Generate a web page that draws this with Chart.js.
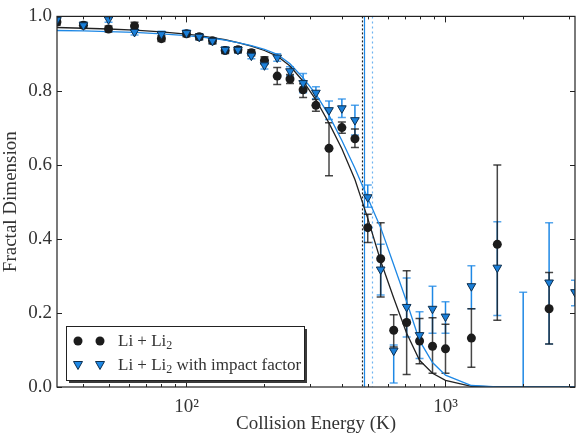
<!DOCTYPE html>
<html>
<head>
<meta charset="utf-8">
<script src="https://cdn.jsdelivr.net/npm/chart.js@4.4.1/dist/chart.umd.min.js"></script>
<style>
  html, body { margin: 0; padding: 0; background: #fff; overflow: hidden; }
  #chart { display: block; }
</style>
</head>
<body>
<canvas id="chart" width="581" height="439"></canvas>
<script>
// Collision energies (K)
const energies = [31.6, 40, 50, 63, 80, 100, 112, 126, 141, 158, 178, 200, 224, 251, 282, 316, 355, 398, 447, 501,
                  562, 631, 708, 794, 891, 1000, 1259, 1585, 1995, 2512, 3162];

// Li + Li2
const liValues = [0.985, 0.976, 0.966, 0.974, 0.940, 0.953, 0.945, 0.934, 0.908, 0.910, 0.902, 0.881, 0.839, 0.831, 0.802, 0.760, 0.644, 0.700, 0.670, 0.430,
                  0.346, 0.153, 0.174, 0.124, 0.110, 0.103, 0.132, 0.385, null, 0.211, null];
const liErrUp = [0.008, 0.008, 0.008, 0.010, 0.008, 0.008, 0.008, 0.008, 0.008, 0.008, 0.008, 0.010, 0.023, 0.012, 0.016, 0.016, 0.069, 0.015, 0.026, 0.036,
                 0.097, 0.042, 0.140, 0.061, 0.077, 0.066, 0.079, 0.214, null, 0.098, null];
const liErrDown = [0.008, 0.008, 0.008, 0.010, 0.008, 0.008, 0.008, 0.008, 0.008, 0.008, 0.008, 0.010, 0.023, 0.012, 0.021, 0.016, 0.074, 0.015, 0.024, 0.040,
                   0.103, 0.045, 0.140, 0.061, 0.073, 0.066, 0.079, 0.205, null, 0.095, null];

// Li + Li2 with impact factor
const impactValues = [0.990, 0.976, 0.992, 0.958, 0.952, 0.955, 0.945, 0.934, 0.910, 0.910, 0.894, 0.868, 0.889, 0.852, 0.820, 0.794, 0.747, 0.752, 0.720, 0.512,
                      0.317, 0.098, 0.216, 0.140, 0.211, 0.190, 0.272, 0.322, -0.100, 0.282, 0.256];
const impactErrUp = [0.008, 0.008, 0.008, 0.008, 0.008, 0.008, 0.008, 0.008, 0.008, 0.008, 0.008, 0.010, 0.010, 0.012, 0.026, 0.016, 0.025, 0.025, 0.040, 0.033,
                     0.068, 0.015, 0.078, 0.063, 0.061, 0.040, 0.055, 0.124, 0.356, 0.161, 0.032];
const impactErrDown = [0.008, 0.008, 0.008, 0.008, 0.008, 0.008, 0.008, 0.008, 0.008, 0.008, 0.008, 0.010, 0.010, 0.012, 0.026, 0.016, 0.025, 0.025, 0.040, 0.027,
                       0.069, 0.087, 0.081, 0.063, 0.066, 0.045, 0.061, 0.129, 0.100, 0.166, 0.037];

// fitted curves, read at the same energies
const liFit = [0.970, 0.968, 0.966, 0.963, 0.958, 0.952, 0.948, 0.943, 0.937, 0.929, 0.920, 0.908, 0.893, 0.866, 0.825, 0.775, 0.712, 0.643, 0.560, 0.455,
               0.340, 0.240, 0.145, 0.072, 0.037, 0.018, 0.002, 0, 0, 0, 0];
const impactFit = [0.962, 0.961, 0.959, 0.957, 0.953, 0.948, 0.945, 0.941, 0.936, 0.929, 0.921, 0.911, 0.898, 0.872, 0.834, 0.790, 0.733, 0.665, 0.590, 0.510,
                   0.430, 0.330, 0.230, 0.125, 0.066, 0.032, 0.004, 0, 0, 0, 0];

// vertical markers (K)
const liMidLine = 477;
const impactMidLines = [484, 518];

const yTicks = [0, 0.2, 0.4, 0.6, 0.8, 1.0];
const xMajorTicks = [100, 1000];
const xMinorTicks = [40, 50, 60, 70, 80, 90, 200, 300, 400, 500, 600, 700, 800, 900, 2000, 3000];

const BLUE = '#1e88e5';
const DARK = '#1c1c1c';
const FONT = "'Liberation Serif', 'DejaVu Serif', serif";

function pts(vals) {
    return energies.map((e, i) => (vals[i] === null ? null : { x: e, y: vals[i] })).filter(p => p !== null);
}

function drawErrorBars(chart, values, up, down, color, capColor) {
    const ctx = chart.ctx, xs = chart.scales.x, ys = chart.scales.y;
    values.forEach((v, i) => {
        if (v === null) return;
        const px = xs.getPixelForValue(energies[i]);
        const top = ys.getPixelForValue(v + up[i]);
        const bot = ys.getPixelForValue(v - down[i]);
        ctx.strokeStyle = color;
        ctx.lineWidth = 1.5;
        ctx.beginPath();
        ctx.moveTo(px, top);
        ctx.lineTo(px, bot);
        ctx.stroke();
        ctx.strokeStyle = capColor;
        ctx.beginPath();
        ctx.moveTo(px - 4, top); ctx.lineTo(px + 4, top);
        ctx.moveTo(px - 4, bot); ctx.lineTo(px + 4, bot);
        ctx.stroke();
    });
}

const underlayPlugin = {
    id: 'underlay',
    beforeDatasetsDraw(chart) {
        const ctx = chart.ctx, a = chart.chartArea, xs = chart.scales.x;
        ctx.save();
        ctx.beginPath();
        ctx.rect(a.left, a.top, a.right - a.left, a.bottom - a.top);
        ctx.clip();

        // vertical lines
        ctx.lineWidth = 1.2;
        let px = Math.round(xs.getPixelForValue(liMidLine)) + 0.5;
        ctx.strokeStyle = '#222';
        ctx.setLineDash([2, 2]);
        ctx.beginPath(); ctx.moveTo(px, a.top); ctx.lineTo(px, a.bottom); ctx.stroke();
        px = Math.round(xs.getPixelForValue(impactMidLines[0])) + 0.5;
        ctx.strokeStyle = BLUE;
        ctx.setLineDash([]);
        ctx.beginPath(); ctx.moveTo(px, a.top); ctx.lineTo(px, a.bottom); ctx.stroke();
        px = Math.round(xs.getPixelForValue(impactMidLines[1])) + 0.5;
        ctx.strokeStyle = '#6fb3f0';
        ctx.setLineDash([2, 3]);
        ctx.beginPath(); ctx.moveTo(px, a.top); ctx.lineTo(px, a.bottom); ctx.stroke();
        ctx.setLineDash([]);

        drawErrorBars(chart, impactValues, impactErrUp, impactErrDown, BLUE, 'rgba(30,136,229,0.75)');
        drawErrorBars(chart, liValues, liErrUp, liErrDown, 'rgba(25,25,25,0.8)', 'rgba(25,25,25,0.8)');
        ctx.restore();
    }
};

const frameLegendPlugin = {
    id: 'frameLegend',
    afterDraw(chart) {
        const ctx = chart.ctx, a = chart.chartArea, xs = chart.scales.x, ys = chart.scales.y;
        ctx.save();
        // frame
        ctx.strokeStyle = '#222';
        ctx.lineWidth = 1.2;
        ctx.strokeRect(a.left, a.top, a.right - a.left, a.bottom - a.top);

        // inward ticks
        ctx.lineWidth = 1;
        ctx.beginPath();
        xMajorTicks.forEach(v => {
            const p = Math.round(xs.getPixelForValue(v)) + 0.5;
            ctx.moveTo(p, a.bottom); ctx.lineTo(p, a.bottom - 6);
            ctx.moveTo(p, a.top); ctx.lineTo(p, a.top + 6);
        });
        xMinorTicks.forEach(v => {
            const p = Math.round(xs.getPixelForValue(v)) + 0.5;
            ctx.moveTo(p, a.bottom); ctx.lineTo(p, a.bottom - 3);
            ctx.moveTo(p, a.top); ctx.lineTo(p, a.top + 3);
        });
        yTicks.forEach(v => {
            const p = Math.round(ys.getPixelForValue(v)) + 0.5;
            ctx.moveTo(a.left, p); ctx.lineTo(a.left + 5, p);
            ctx.moveTo(a.right, p); ctx.lineTo(a.right - 5, p);
        });
        ctx.stroke();

        // legend box
        const bx = 66, by = 326, bw = 238, bh = 54;
        ctx.fillStyle = '#3a3a3a';
        ctx.fillRect(bx + 3, by + 3, bw, bh);
        ctx.fillStyle = '#fff';
        ctx.fillRect(bx, by, bw, bh);
        ctx.strokeStyle = '#222';
        ctx.lineWidth = 1;
        ctx.strokeRect(bx + 0.5, by + 0.5, bw, bh);

        const rows = [by + 15, by + 39];
        [78, 100].forEach(mx => {
            ctx.fillStyle = DARK;
            ctx.beginPath(); ctx.arc(mx, rows[0], 4.5, 0, Math.PI * 2); ctx.fill();
            ctx.fillStyle = BLUE;
            ctx.strokeStyle = '#0d2f4f';
            ctx.beginPath();
            ctx.moveTo(mx - 4.5, rows[1] - 3.5);
            ctx.lineTo(mx + 4.5, rows[1] - 3.5);
            ctx.lineTo(mx, rows[1] + 4.5);
            ctx.closePath();
            ctx.fill(); ctx.stroke();
        });

        ctx.fillStyle = '#333';
        ctx.textBaseline = 'alphabetic';
        const labels = ['', ' with impact factor'];
        rows.forEach((ry, i) => {
            let tx = 118;
            ctx.font = '17px ' + FONT;
            ctx.fillText('Li + Li', tx, ry + 5);
            tx += ctx.measureText('Li + Li').width;
            ctx.font = '12px ' + FONT;
            ctx.fillText('2', tx, ry + 8);
            tx += ctx.measureText('2').width;
            ctx.font = '17px ' + FONT;
            ctx.fillText(labels[i], tx, ry + 5);
        });
        ctx.restore();
    }
};

new Chart(document.getElementById('chart').getContext('2d'), {
    type: 'scatter',
    data: {
        datasets: [
            {
                label: 'Li + Li2 with impact factor',
                data: pts(impactValues),
                pointStyle: 'triangle',
                rotation: 180,
                pointRadius: 5,
                backgroundColor: '#1a7fd9',
                borderColor: '#0d2f4f',
                borderWidth: 1,
                clip: 0,
                order: 0
            },
            {
                label: 'Li + Li2',
                data: pts(liValues),
                pointStyle: 'circle',
                pointRadius: 4.5,
                backgroundColor: DARK,
                borderColor: DARK,
                borderWidth: 0,
                clip: 0,
                order: 1
            },
            {
                type: 'line',
                data: pts(impactFit),
                borderColor: BLUE,
                borderWidth: 1.3,
                pointRadius: 0,
                tension: 0,
                fill: false,
                clip: 0,
                order: 2
            },
            {
                type: 'line',
                data: pts(liFit),
                borderColor: '#222',
                borderWidth: 1.3,
                pointRadius: 0,
                tension: 0,
                fill: false,
                clip: 0,
                order: 3
            }
        ]
    },
    options: {
        responsive: false,
        animation: false,
        events: [],
        layout: {
            padding: { top: 8, right: 0, left: 0, bottom: 0 }
        },
        plugins: {
            legend: { display: false },
            tooltip: { enabled: false }
        },
        scales: {
            x: {
                type: 'logarithmic',
                min: 31.623,
                max: 3162.3,
                grid: { display: false, drawTicks: false },
                border: { display: false },
                afterBuildTicks: function(scale) {
                    scale.ticks = xMajorTicks.map(v => ({ value: v }));
                },
                afterFit: function(scale) {
                    scale.height = 52;
                },
                ticks: {
                    autoSkip: false,
                    maxRotation: 0,
                    padding: 9,
                    color: '#333',
                    font: { size: 19, family: FONT },
                    callback: function(value) {
                        return value === 100 ? '10\u00B2' : value === 1000 ? '10\u00B3' : '';
                    }
                },
                title: {
                    display: true,
                    text: 'Collision Energy (K)',
                    color: '#333',
                    font: { size: 19, family: FONT },
                    padding: { top: 0, bottom: 4 }
                }
            },
            y: {
                min: 0,
                max: 1,
                grid: { display: false, drawTicks: false },
                border: { display: false },
                afterBuildTicks: function(scale) {
                    scale.ticks = yTicks.map(v => ({ value: v }));
                },
                afterFit: function(scale) {
                    scale.width = 57;
                },
                ticks: {
                    padding: 5,
                    color: '#333',
                    font: { size: 19, family: FONT },
                    callback: function(value) {
                        return value.toFixed(1);
                    }
                },
                title: {
                    display: true,
                    text: 'Fractal Dimension',
                    color: '#333',
                    font: { size: 19, family: FONT },
                    padding: { top: 0, bottom: 4 }
                }
            }
        }
    },
    plugins: [underlayPlugin, frameLegendPlugin]
});
</script>
</body>
</html>
